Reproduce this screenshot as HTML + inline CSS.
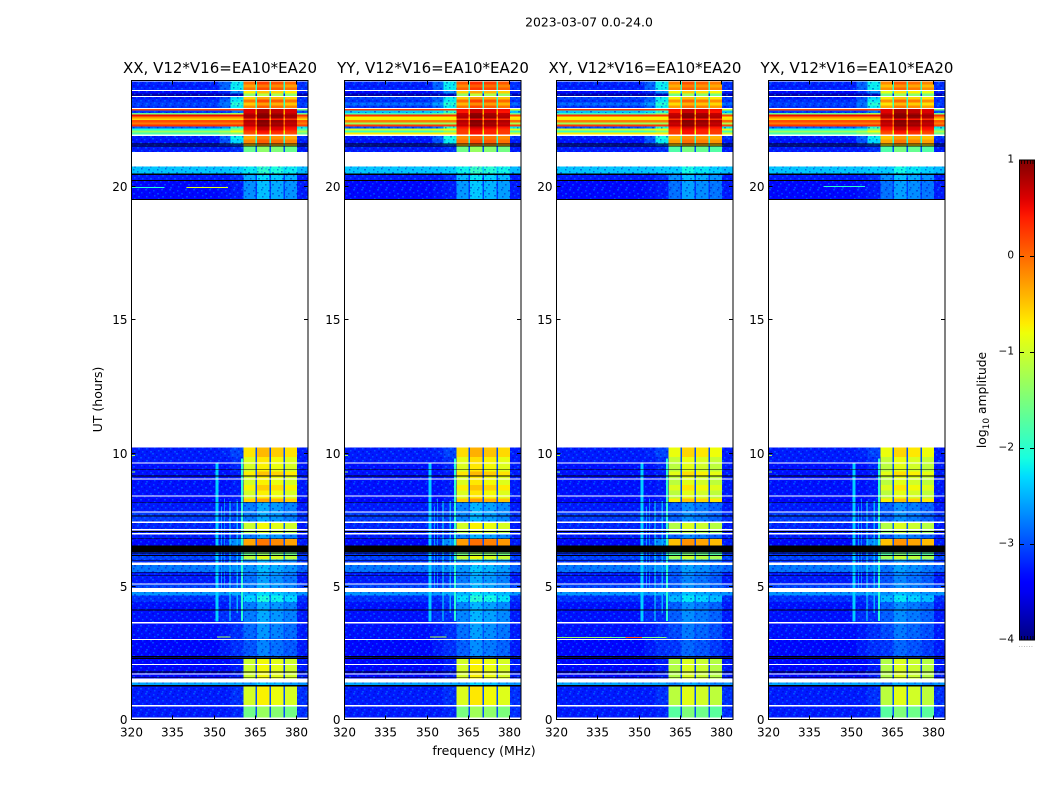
<!DOCTYPE html>
<html lang="en">
<head>
<meta charset="utf-8">
<title>2023-03-07 0.0-24.0</title>
<style>
html,body{margin:0;padding:0;background:#fff;width:1050px;height:800px;overflow:hidden}
svg{display:block}
text{font-family:"DejaVu Sans","Liberation Sans",sans-serif;fill:#000}
.tick{font-size:12px}
.title{font-size:15px}
.cbt{font-size:10.5px}
</style>
</head>
<body>
<svg id="chart" xmlns="http://www.w3.org/2000/svg" width="1050" height="800" viewBox="0 0 1050 800">
<defs>
<pattern id="speckle" patternUnits="userSpaceOnUse" width="24" height="21">
<g fill="#00a0ff" opacity=".4">
<rect x="1" y="0" width="2" height="1.5"/><rect x="9" y="1" width="1.5" height="1.5"/><rect x="17" y="0" width="2" height="1.5"/>
<rect x="5" y="3" width="1.5" height="1.5"/><rect x="13" y="4" width="2" height="1.5"/><rect x="21" y="3" width="1.5" height="1.5"/>
<rect x="2" y="7" width="1.5" height="1.5"/><rect x="10" y="6" width="1.5" height="1.5"/><rect x="18" y="7" width="2" height="1.5"/>
<rect x="6" y="10" width="2" height="1.5"/><rect x="14" y="9" width="1.5" height="1.5"/><rect x="22" y="10" width="1.5" height="1.5"/>
<rect x="0" y="13" width="1.5" height="1.5"/><rect x="8" y="12" width="2" height="1.5"/><rect x="16" y="13" width="1.5" height="1.5"/>
<rect x="4" y="16" width="1.5" height="1.5"/><rect x="12" y="15" width="1.5" height="1.5"/><rect x="20" y="16" width="2" height="1.5"/>
<rect x="2" y="19" width="2" height="1.5"/><rect x="10" y="18" width="1.5" height="1.5"/><rect x="18" y="19" width="1.5" height="1.5"/>
</g>
<g fill="#0000c0" opacity=".45">
<rect x="4" y="1" width="2" height="1.5"/><rect x="13" y="1" width="1.5" height="1.5"/><rect x="21" y="0" width="1.5" height="1.5"/>
<rect x="0" y="4" width="1.5" height="1.5"/><rect x="8" y="4" width="2" height="1.5"/><rect x="17" y="3" width="1.5" height="1.5"/>
<rect x="5" y="7" width="1.5" height="1.5"/><rect x="14" y="6" width="2" height="1.5"/><rect x="22" y="7" width="1.5" height="1.5"/>
<rect x="2" y="10" width="2" height="1.5"/><rect x="10" y="10" width="1.5" height="1.5"/><rect x="18" y="10" width="2" height="1.5"/>
<rect x="5" y="13" width="1.5" height="1.5"/><rect x="12" y="13" width="1.5" height="1.5"/><rect x="21" y="13" width="1.5" height="1.5"/>
<rect x="1" y="16" width="1.5" height="1.5"/><rect x="8" y="16" width="2" height="1.5"/><rect x="16" y="16" width="1.5" height="1.5"/>
<rect x="6" y="19" width="1.5" height="1.5"/><rect x="14" y="19" width="2" height="1.5"/><rect x="22" y="19" width="1.5" height="1.5"/>
</g>
</pattern>
<linearGradient id="cbar-gradient" x1="0" y1="1" x2="0" y2="0"></linearGradient>
</defs>
<text x="589" y="26.5" text-anchor="middle" style="font-size:12.4px">2023-03-07 0.0-24.0</text>
<text x="484" y="755" text-anchor="middle" style="font-size:12.5px">frequency (MHz)</text>
<text transform="translate(102,399.5) rotate(-90)" text-anchor="middle" style="font-size:12.5px">UT (hours)</text>
<text transform="translate(986,400) rotate(-90)" text-anchor="middle" style="font-size:12.3px">log<tspan dy="3" style="font-size:9px">10</tspan><tspan dy="-3"> amplitude</tspan></text>
<g id="panels"></g>
<g id="colorbar"></g>
</svg>
<script>
/* ---------- data ---------- */
var panelNames = ['XX', 'YY', 'XY', 'YX'];
var panelTitles = ['XX, V12*V16=EA10*EA20', 'YY, V12*V16=EA10*EA20', 'XY, V12*V16=EA10*EA20', 'YX, V12*V16=EA10*EA20'];
var freqTicks = [320, 335, 350, 365, 380];
var utTicks = [0, 5, 10, 15, 20];
var cbarTicks = [1, 0, -1, -2, -3, -4];
var cbarTickLabels = ['1', '0', '\u22121', '\u22122', '\u22123', '\u22124'];

/* each section: ut start, ut end, log amp at 320-352, 352-356, 356-360.6, within sub-bands, at sub-band gaps, 380-384 */
var sectionsLower = [
[0,0.5,-3.25,-3.25,-3.2,-1.45,-3.0,-3.15],
[0.5,1.25,-3.25,-3.25,-3.15,-0.85,-3.0,-3.15],
[1.25,1.39,-2.55,-2.55,-2.55,-2.5,-2.55,-2.65],
[1.53,2.3,-3.35,-3.35,-3.25,-0.9,-3.1,-3.25],
[2.3,3.05,-3.35,-3.25,-3.15,-2.85,-3.0,-3.25],
[3.05,3.65,-3.3,-3.25,-3.15,-2.75,-3.0,-3.25],
[3.65,4.1,-3.3,-3.15,-3.15,-2.65,-2.9,-3.25],
[4.1,4.4,-3.3,-3.25,-3.15,-2.65,-2.9,-3.25],
[4.4,4.65,-3.15,-3.15,-3.05,-2.2,-2.8,-3.15],
[4.65,4.78,-2.65,-2.65,-2.55,-2.4,-2.55,-2.65],
[4.94,5.09,-3.05,-3.05,-2.95,-2.65,-2.8,-3.05],
[5.09,5.53,-3.25,-3.25,-3.15,-2.7,-2.9,-3.25],
[5.53,5.79,-2.8,-2.8,-2.7,-2.55,-2.7,-2.9],
[5.9,6.0,-3.15,-3.15,-3.05,-2.65,-2.9,-3.15],
[6.0,6.15,-3.05,-3.05,-2.95,-1.0,-2.7,-3.05],
[6.15,6.3,-3.15,-3.15,-3.05,-1.5,-2.8,-3.15],
[6.52,6.78,-3.35,-3.15,-2.7,-0.2,-3.0,-3.25],
[6.78,6.97,-3.25,-3.25,-3.15,-2.65,-3.0,-3.25],
[6.97,7.12,-3.25,-3.25,-3.15,-1.1,-2.9,-3.25],
[7.12,7.37,-3.2,-3.2,-3.15,-0.9,-2.9,-3.25],
[7.43,7.79,-3.1,-3.1,-3.05,-2.65,-2.9,-3.15],
[7.79,8.15,-3.25,-3.25,-3.15,-2.65,-3.0,-3.25],
[8.15,8.3,-3.35,-3.35,-3.25,-0.45,-3.0,-3.35],
[8.3,8.6,-3.3,-3.3,-3.25,-0.85,-3.0,-3.25],
[8.6,8.8,-3.3,-3.3,-3.25,-0.65,-3.0,-3.25],
[8.8,9.15,-3.3,-3.3,-3.25,-0.85,-3.0,-3.25],
[9.15,9.3,-3.3,-3.3,-3.25,-0.6,-3.0,-3.25],
[9.3,9.63,-3.3,-3.3,-3.2,-0.85,-3.0,-3.25],
[9.63,9.85,-3.25,-3.25,-3.15,-0.8,-3.0,-3.25],
[9.85,10.2,-3.25,-3.2,-3.05,-0.55,-3.0,-3.25],
[19.5,20.22,-3.35,-3.3,-3.25,-2.55,-3.1,-3.25],
[20.22,20.45,-3.25,-3.25,-3.15,-2.4,-3.1,-3.25],
[20.45,20.75,-2.4,-2.4,-2.35,-2.1,-2.35,-2.45],
[21.3,21.5,-3.25,-3.25,-3.15,-1.5,-3.0,-3.25]
];
var topBandParallel = [
[21.5,21.61,-3.25,-3.15,-3.0,-0.45,-2.2,-3.25],
[21.61,21.76,-3.3,-3.0,-2.3,-0.05,-2.0,-3.25],
[21.76,21.9,-3.25,-2.9,-2.2,-0.25,-1.9,-3.15],
[21.95,22.03,-1.8,-1.6,-1.5,0.25,-1.0,-1.6],
[22.03,22.1,-1.3,-1.2,-0.8,0.35,-0.8,-1.2],
[22.1,22.18,-2.1,-2.0,-1.5,0.55,-0.3,-1.8],
[22.18,22.25,-2.9,-2.7,-2.0,0.6,-0.2,-2.2],
[22.25,22.33,0.3,0.3,0.3,0.85,0.2,0.2],
[22.33,22.4,-0.1,-0.1,-0.1,0.8,-0.1,-0.1],
[22.4,22.5,0.15,0.15,0.15,0.9,0.1,0.1],
[22.5,22.55,-0.6,-0.6,-0.6,0.4,-0.5,-0.6],
[22.55,22.63,-0.2,-0.2,-0.2,0.9,-0.1,-0.2],
[22.63,22.7,0.5,0.5,0.5,0.95,0.3,0.3],
[22.7,22.76,-1.6,-1.4,-1.2,0.8,-0.5,-1.6],
[22.76,22.85,-3.1,-3.1,-2.8,0.7,-0.4,-3.0],
[22.85,22.91,0.15,0.2,0.2,0.7,-0.2,-1.5],
[22.95,23.04,-3.15,-2.9,-2.2,-0.05,-1.9,-3.15],
[23.04,23.15,-3.05,-2.8,-2.0,-0.4,-1.9,-3.05],
[23.15,23.26,-3.15,-2.9,-2.2,0.05,-1.9,-3.15],
[23.26,23.36,-3.25,-3.0,-2.3,-0.45,-2.0,-3.15],
[23.39,23.49,-3.85,-3.85,-3.8,-1.3,-3.2,-3.85],
[23.49,23.6,-3.35,-3.2,-2.7,-0.6,-2.2,-3.25],
[23.6,23.71,-3.2,-2.9,-2.2,0.05,-2.0,-3.15],
[23.71,23.83,-3.25,-2.9,-2.2,-0.2,-2.0,-3.15],
[23.83,23.94,-3.2,-2.9,-2.2,0.1,-2.0,-3.15]
];
var topBandCross = [
[21.5,21.61,-3.25,-3.15,-2.9,-0.35,-2.1,-3.25],
[21.61,21.76,-3.3,-3.0,-2.2,0.0,-2.0,-3.25],
[21.76,21.9,-3.25,-2.9,-2.1,-0.15,-1.9,-3.15],
[21.95,22.03,-0.7,-0.7,-0.7,0.35,-0.8,-1.0],
[22.03,22.1,-1.9,-1.8,-1.5,0.35,-0.9,-1.8],
[22.1,22.18,-1.0,-0.9,-0.8,0.4,-0.5,-0.9],
[22.18,22.25,-3.0,-2.8,-2.0,0.55,-0.2,-2.2],
[22.25,22.33,0.25,0.25,0.25,0.85,0.2,0.2],
[22.33,22.4,-1.3,-1.3,-1.3,0.8,-0.2,-1.2],
[22.4,22.5,-0.1,-0.1,-0.1,0.9,0.1,0.0],
[22.5,22.55,-0.7,-0.7,-0.7,0.4,-0.5,-0.6],
[22.55,22.63,-0.75,-0.75,-0.75,0.9,-0.2,-0.7],
[22.63,22.7,0.3,0.3,0.3,0.85,0.2,0.2],
[22.7,22.76,-1.9,-1.7,-1.4,0.8,-0.5,-1.6],
[22.76,22.85,-2.4,-2.3,-2.0,0.55,-0.4,-2.4],
[22.85,22.91,0.25,0.25,0.25,0.6,-0.2,-1.0],
[22.95,23.04,-3.15,-2.9,-2.2,0.0,-1.9,-3.15],
[23.04,23.15,-2.85,-2.6,-2.0,-0.35,-1.9,-2.85],
[23.15,23.26,-3.15,-2.9,-2.2,0.05,-1.9,-3.15],
[23.26,23.36,-3.05,-2.9,-2.2,-0.45,-2.0,-3.05],
[23.39,23.49,-3.85,-3.85,-3.8,-1.3,-3.2,-3.85],
[23.49,23.6,-3.35,-3.2,-2.7,-0.5,-2.2,-3.25],
[23.6,23.71,-3.2,-2.9,-2.2,0.1,-2.0,-3.15],
[23.71,23.83,-3.25,-2.9,-2.2,-0.1,-2.0,-3.15],
[23.83,23.94,-3.2,-2.9,-2.2,0.15,-2.0,-3.15]
];
var panelTopBands = [topBandParallel, topBandCross, topBandCross, topBandParallel];
var panelBlockOffset = [0, 0.05, -0.15, -0.15];
var subBandOffset = [-0.12, 0.12, 0.02, -0.1];

var whiteGaps = [[0.02,0.07],[0.48,0.55],[1.39,1.53],[1.69,1.73],[2.04,2.09],[2.98,3.03],[3.61,3.66],[4.78,4.94],[5.07,5.11],[5.79,5.9],[6.95,6.99],[7.1,7.14],[7.37,7.43],[7.77,7.81],[8.37,8.41],[9.01,9.05],[9.61,9.65],[21.9,21.95],[22.91,22.95],[23.36,23.39],[23.58,23.62]];
var blackFlags = [[1.23,1.3],[1.55,1.58],[1.76,1.8],[2.27,2.32],[2.35,2.39],[4.09,4.13],[5.38,5.41],[5.49,5.52],[5.96,5.99],[6.14,6.17],[6.23,6.26],[6.29,6.52],[6.77,6.8],[7.04,7.07],[7.62,7.65],[8.14,8.17],[9.12,9.15],[9.36,9.39],[19.5,19.53],[20.2,20.24],[20.44,20.48],[21.5,21.53],[21.58,21.62]];

/* narrow interference columns: freq start, freq end, ut start, ut end, log amp */
var rfiColumns = [
[350.4,351.5,3.67,9.6,-2.35],
[352.4,352.8,4.9,8.0,-2.6],
[353.6,354,4.9,8.3,-2.7],
[355.5,355.9,3.7,8.2,-2.2],
[358.2,358.6,4.0,8.2,-2.5],
[359.8,360.4,3.7,9.8,-2.0]
];
/* narrow interference tones per panel: ut, freq start, freq end, log amp */
var rfiLinesXX = [[3.09,351,356,-1.3],[20.46,340,355,-0.6],[19.97,340,355,-0.9],[20.46,320,332,-1.5],[19.97,320,332,-2],[9.9,320,321.2,-1.2],[9.28,320,321.2,-1.3]];
var rfiLinesYY = [[3.09,351,357,-1.2],[9.9,320,321.2,-1.2],[9.28,320,321.2,-1.3]];
var rfiLinesXY = [[3.08,320,340,-1.3],[3.08,340,345,-1.6],[3.08,345,351,0],[3.08,351,360,-1.5],[9.9,320,321.2,-1.2],[9.28,320,321.2,-1.3]];
var rfiLinesYX = [[20.0,340,355,-2],[20.46,332,350,-2],[9.9,320,321.2,-1.2],[9.28,320,321.2,-1.3]];
var panelRfiLines = [rfiLinesXX, rfiLinesYY, rfiLinesXY, rfiLinesYX];

/* ---------- scales ---------- */
var FRAME_LEFT = [131.5, 344.5, 556.5, 768.5];
var FRAME_W = 176.5, FRAME_TOP = 80.5, FRAME_BOTTOM = 719.5;
function xScale(p, f) { return FRAME_LEFT[p] + (f - 320) * 2.755; }
function yScale(h) { return 719.5 - h * 26.65; }
function cbarY(v) { return 160 + (1 - v) * 96; }

function interp(stops, t) {
  for (var i = 1; i < stops.length; i++) {
    if (t <= stops[i][0]) {
      var a = stops[i - 1], b = stops[i];
      return a[1] + (b[1] - a[1]) * (t - a[0]) / (b[0] - a[0]);
    }
  }
  return stops[stops.length - 1][1];
}
var JR = [[0,0],[0.35,0],[0.66,1],[0.89,1],[1,0.5]];
var JG = [[0,0],[0.125,0],[0.375,1],[0.64,1],[0.91,0],[1,0]];
var JB = [[0,0.5],[0.11,1],[0.34,1],[0.65,0],[1,0]];
function jet(v) {
  var t = Math.max(0, Math.min(1, (v + 4) / 5));
  return 'rgb(' + Math.round(255 * interp(JR, t)) + ',' + Math.round(255 * interp(JG, t)) + ',' + Math.round(255 * interp(JB, t)) + ')';
}

var NS = 'http://www.w3.org/2000/svg';
function mk(parent, tag, attrs) {
  var e = document.createElementNS(NS, tag);
  for (var k in attrs) e.setAttribute(k, attrs[k]);
  parent.appendChild(e);
  return e;
}

var root = document.getElementById('panels');
var segs = [[320,352,'bg'],[352,356,'r1'],[356,360.6,'r2'],[360.6,365,0],[365,365.5,'gap'],[365.5,370,1],[370,370.6,'gap'],[370.6,375.1,2],[375.1,375.7,'gap'],[375.7,380,3],[380,384.1,'right']];

panelNames.forEach(function (name, p) {
  var g = mk(root, 'g', {});
  
  

  var heat = mk(g, 'g', {'shape-rendering': 'crispEdges'});
  
  

  var all = sectionsLower.concat(panelTopBands[p]);
  all.forEach(function (s) {
    var y1 = yScale(s[1]), y0 = yScale(s[0]);
    segs.forEach(function (seg) {
      var v;
      if (seg[2] === 'bg') v = s[2];
      else if (seg[2] === 'r1') v = s[3];
      else if (seg[2] === 'r2') v = s[4];
      else if (seg[2] === 'gap') v = s[6];
      else if (seg[2] === 'right') v = s[7];
      else v = s[5] + subBandOffset[seg[2]] + (s[5] > 0.2 ? 0 : panelBlockOffset[p]);
      var r = mk(heat, 'rect', {x: xScale(p, seg[0]), y: y1, width: xScale(p, seg[1]) - xScale(p, seg[0]), height: y0 - y1, fill: jet(v)});
      
      
    });
    if (s[2] < -2.2) {
      var noisyEnd = s[5] < -1.7 ? 384.1 : 360.6;
      var n = mk(heat, 'rect', {x: xScale(p, 320), y: y1, width: xScale(p, noisyEnd) - xScale(p, 320), height: y0 - y1, fill: 'url(#speckle)'});
      
      
      if (noisyEnd === 360.6) {
        var n2 = mk(heat, 'rect', {x: xScale(p, 380), y: y1, width: xScale(p, 384.1) - xScale(p, 380), height: y0 - y1, fill: 'url(#speckle)'});
        
        
      }
    }
  });

  rfiColumns.forEach(function (c) {
    var r = mk(heat, 'rect', {x: xScale(p, c[0]), y: yScale(c[3]), width: xScale(p, c[1]) - xScale(p, c[0]), height: yScale(c[2]) - yScale(c[3]), fill: jet(c[4])});
    
    
  });
  panelRfiLines[p].forEach(function (l) {
    var r = mk(heat, 'rect', {x: xScale(p, l[1]), y: yScale(l[0]) - 0.5, width: xScale(p, l[2]) - xScale(p, l[1]), height: 1, fill: jet(l[3])});
    
    
  });
  whiteGaps.forEach(function (w) {
    var r = mk(heat, 'rect', {x: xScale(p, 320), y: yScale(w[1]), width: FRAME_W, height: yScale(w[0]) - yScale(w[1]), fill: '#fff'});
    
    
  });
  blackFlags.forEach(function (w) {
    var r = mk(heat, 'rect', {x: xScale(p, 320), y: yScale(w[1]), width: FRAME_W, height: yScale(w[0]) - yScale(w[1]), fill: '#000'});
    
    
  });

  var frame = mk(g, 'rect', {x: FRAME_LEFT[p], y: FRAME_TOP, width: FRAME_W, height: FRAME_BOTTOM - FRAME_TOP, fill: 'none', stroke: '#000', 'stroke-width': 1});
  
  

  var t = mk(g, 'text', {x: FRAME_LEFT[p] + 88.5, y: 73, 'text-anchor': 'middle', 'class': 'title'});
  t.textContent = panelTitles[p];
  
  

  freqTicks.forEach(function (f) {
    var x = Math.round(xScale(p, f) - 0.5) + 0.5;
    var a = mk(g, 'line', {x1: x, x2: x, y1: FRAME_BOTTOM, y2: FRAME_BOTTOM - 4, stroke: '#000'});
    
    
    var b = mk(g, 'line', {x1: x, x2: x, y1: FRAME_TOP, y2: FRAME_TOP + 4, stroke: '#000'});
    
    
    var l = mk(g, 'text', {x: x, y: 736.5, 'text-anchor': 'middle', 'class': 'tick'});
    l.textContent = f;
    
    
  });
  utTicks.forEach(function (h) {
    var y = Math.round(yScale(h) - 0.5) + 0.5;
    var a = mk(g, 'line', {x1: FRAME_LEFT[p], x2: FRAME_LEFT[p] + 4, y1: y, y2: y, stroke: '#000'});
    
    
    var b = mk(g, 'line', {x1: FRAME_LEFT[p] + FRAME_W, x2: FRAME_LEFT[p] + FRAME_W - 4, y1: y, y2: y, stroke: '#000'});
    
    
    var l = mk(g, 'text', {x: FRAME_LEFT[p] - 4, y: y + 4.5, 'text-anchor': 'end', 'class': 'tick'});
    l.textContent = h;
    
    
  });
});

/* ---------- colorbar ---------- */
var grad = document.getElementById('cbar-gradient');
for (var i = 0; i <= 50; i++) {
  mk(grad, 'stop', {offset: (i * 2) + '%', 'stop-color': jet(-4 + i / 10)});
}
var cb = document.getElementById('colorbar');


var cbRect = mk(cb, 'rect', {x: 1019.5, y: cbarY(1), width: 15, height: cbarY(-4) - cbarY(1), fill: 'url(#cbar-gradient)', stroke: '#000', 'stroke-width': 1});


cbarTicks.forEach(function (v, i) {
  var y = Math.round(cbarY(v)) + 0.5;
  if (v !== 1 && v !== -4) {
    var a = mk(cb, 'line', {x1: 1019.5, x2: 1024, y1: y, y2: y, stroke: '#000'});
    
    
    var b = mk(cb, 'line', {x1: 1030, x2: 1034.5, y1: y, y2: y, stroke: '#000'});
    
    
  }
  var l = mk(cb, 'text', {x: 1014, y: cbarY(v) + 2.5, 'text-anchor': 'end', 'class': 'cbt'});
  l.textContent = cbarTickLabels[i];
  
  
});
[1021.5, 1024.5, 1027.5, 1030.5, 1033].forEach(function (x) {
  var a = mk(cb, 'line', {x1: x, x2: x, y1: 160, y2: 164, stroke: '#000', 'stroke-width': 0.8});
  
  
  var b = mk(cb, 'line', {x1: x, x2: x, y1: 636, y2: 640, stroke: '#000', 'stroke-width': 0.8});
  
  
});
var dots = mk(cb, 'text', {x: 1026, y: 647, 'text-anchor': 'middle', style: 'font-size:6px;fill:#777;letter-spacing:0.6px'});
dots.textContent = '......';


</script>
</body>
</html>
